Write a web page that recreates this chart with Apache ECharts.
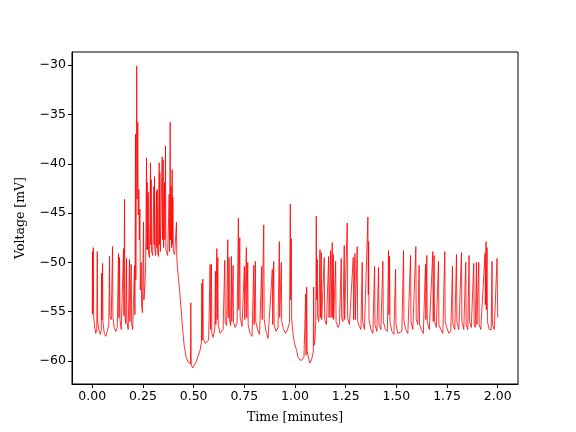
<!DOCTYPE html>
<html>
<head>
<meta charset="utf-8">
<script src="https://cdn.jsdelivr.net/npm/echarts@6/dist/echarts.min.js"></script>
<style>html,body{margin:0;padding:0;background:#fff}#c{width:576px;height:432px}</style>
</head>
<body>
<div id="c"></div>
<script>
// Time in minutes
const timeMin = [
0,0.0010,0.0025,0.0049,0.0069,0.0123,0.0172,0.0222,0.0246,0.0266,0.0320,0.0394,0.0443,0.0458,0.0473,0.0507,0.0527,0.0591,0.0665,0.0739,
0.0813,0.0852,0.0872,0.0936,0.1000,0.1020,0.1084,0.1158,0.1232,0.1296,0.1315,0.1345,0.1365,0.1429,0.1502,0.1542,0.1562,0.1591,0.1611,0.1650,
0.1690,0.1709,0.1773,0.1837,0.1857,0.1921,0.1941,0.1995,0.2084,0.2103,0.2133,0.2148,0.2192,0.2212,0.2246,0.2266,0.2300,0.2320,0.2350,0.2369,
0.2414,0.2433,0.2473,0.2527,0.2547,0.2586,0.2635,
0.2675,0.2695,0.2709,0.2729,0.2759,0.2778,0.2823,0.2872,0.2887,0.2906,0.2926,0.2980,0.3039,0.3054,0.3069,0.3089,0.3128,0.3167,0.3182,0.3202,
0.3222,0.3266,0.3300,0.3315,0.3335,0.3355,0.3399,0.3448,0.3468,0.3498,0.3517,0.3562,0.3581,0.3611,0.3631,0.3670,0.3719,0.3793,0.3813,0.3842,
0.3862,0.3892,0.3911,0.3941,0.3961,0.3975,0.3995,0.4064,0.4153,0.4172,0.4236,0.4310,0.4384,0.4458,0.4532,0.4631,0.4729,0.4842,0.4862,0.4882,
0.4951,0.5025,0.5123,0.5222,0.5320,0.5384,0.5404,0.5424,0.5453,0.5473,0.5567,0.5665,0.5739,0.5813,0.5833,0.5877,0.5897,0.5961,0.6044,0.6074,
0.6094,0.6143,0.6163,0.6192,0.6212,0.6305,0.6379,0.6453,0.6537,0.6557,0.6626,0.6685,0.6704,0.6749,0.6768,0.6823,0.6862,0.6882,0.6946,0.6966,
0.7044,0.7143,0.7207,0.7227,0.7276,0.7296,0.7389,0.7463,0.7502,0.7522,0.7601,0.7621,0.7670,0.7690,0.7783,0.7882,0.7966,0.7985,0.8044,0.8064,
0.8153,0.8251,0.8360,0.8379,0.8458,0.8478,0.8571,0.8670,0.8768,0.8882,0.8901,0.8951,0.8970,0.9064,0.9163,0.9227,0.9246,0.9325,0.9345,0.9433,
0.9532,0.9631,0.9729,0.9768,0.9788,0.9818,0.9837,0.9901,0.9975,1.0074,1.0148,1.0246,1.0345,1.0443,1.0517,1.0527,1.0547,1.0576,1.0596,1.0665,
1.0739,1.0813,1.0901,1.0921,1.0941,1.0985,1.1025,1.1049,1.1069,1.1099,1.1118,1.1172,1.1232,1.1251,1.1296,1.1315,1.1379,1.1443,1.1463,1.1552,
1.1660,1.1680,1.1759,1.1778,1.1837,1.1857,1.1887,1.1906,1.2005,1.2025,1.2118,1.2192,1.2281,1.2300,1.2365,1.2429,1.2448,1.2512,1.2576,1.2596,
1.2685,1.2783,1.2872,1.2892,1.2956,1.2975,1.3069,1.3089,1.3177,1.3251,1.3315,1.3335,1.3424,1.3522,1.3596,1.3616,1.3631,1.3650,1.3744,1.3842,
1.3926,1.3946,1.4039,1.4123,1.4143,1.4236,1.4335,1.4355,1.4458,1.4557,1.4616,1.4635,1.4665,1.4685,1.4778,1.4877,1.4961,1.4980,1.5074,1.5172,
1.5271,1.5355,1.5374,1.5468,1.5567,1.5700,1.5719,1.5813,1.5887,1.5961,1.5980,1.6059,1.6123,1.6143,1.6232,1.6330,1.6438,1.6458,1.6502,1.6522,
1.6626,1.6724,1.6798,1.6818,1.6862,1.6882,1.6970,1.7079,1.7099,1.7192,1.7291,1.7389,1.7409,1.7488,1.7586,1.7685,1.7768,1.7788,1.7882,1.7965,
1.7985,1.8079,1.8153,1.8212,1.8232,1.8325,1.8424,1.8443,1.8522,1.8586,1.8606,1.8695,1.8818,1.8837,1.8892,1.8951,1.8970,1.9064,1.9084,1.9163,
1.9261,1.9374,1.9389,1.9424,1.9438,1.9473,1.9493,1.9581,1.9680,1.9719,1.9739,1.9828,1.9926,1.9966,2.0000
];
// Membrane voltage in mV
const voltageMV = [
-55.3,-48.9,-55.2,-48.5,-55.6,-56.6,-57.2,-56.8,-48.9,-56.0,-56.8,-57.3,-56.9,-51.1,-55.8,-50.1,-56.0,-57.2,-57.5,-57.0,
-56.4,-49.4,-55.4,-55.8,-48.4,-55.6,-56.6,-57.0,-56.6,-49.1,-55.6,-49.5,-55.8,-56.8,-56.6,-48.6,-55.4,-43.6,-55.3,-56.2,
-49.6,-56.0,-56.8,-49.7,-56.0,-50.2,-56.2,-56.8,-50.3,-55.3,-37.0,-51.8,-30.1,-43.6,-35.8,-45.2,-42.6,-47.7,-44.6,-52.8,
-50.0,-54.3,-55.1,-45.9,-53.8,-52.8,-50.2,
-39.4,-48.7,-41.9,-48.7,-42.9,-49.2,-49.5,-39.9,-48.2,-41.6,-48.9,-49.3,-42.3,-48.2,-41.3,-48.7,-49.3,-42.8,-48.5,-42.6,
-49.0,-49.4,-39.9,-48.2,-40.9,-48.9,-49.1,-39.3,-47.7,-39.6,-48.5,-41.9,-47.7,-38.2,-48.7,-49.0,-49.3,-43.1,-48.9,-35.8,
-47.7,-42.3,-48.5,-40.6,-48.2,-43.4,-48.9,-49.2,-45.9,-49.7,-51.3,-52.8,-54.8,-56.8,-58.4,-59.6,-60.1,-60.3,-54.1,-60.4,
-60.7,-60.6,-60.1,-59.5,-58.9,-58.1,-52.1,-57.9,-51.7,-57.7,-58.2,-58.4,-57.9,-50.2,-56.8,-50.2,-57.2,-57.6,-56.8,-50.9,
-56.3,-48.6,-55.8,-49.5,-56.3,-57.2,-57.4,-56.8,-49.8,-56.0,-56.4,-47.7,-55.6,-49.5,-55.8,-56.4,-49.4,-56.0,-50.3,-56.0,
-56.6,-56.2,-45.5,-54.8,-47.5,-55.6,-56.5,-56.3,-50.4,-55.8,-48.5,-55.6,-50.0,-56.3,-57.2,-57.5,-50.3,-56.3,-49.9,-56.0,
-56.8,-57.3,-50.4,-55.8,-46.2,-55.8,-57.0,-57.7,-57.5,-50.7,-56.3,-49.9,-56.3,-57.0,-56.6,-47.9,-55.6,-50.0,-56.0,-56.8,
-57.2,-56.8,-56.1,-44.1,-53.8,-47.6,-55.8,-57.2,-58.2,-58.9,-59.6,-59.9,-59.9,-59.6,-59.4,-53.2,-59.4,-52.5,-58.9,-59.7,
-60.2,-59.9,-59.1,-52.5,-58.4,-57.9,-56.0,-45.3,-53.8,-49.7,-55.6,-56.0,-48.7,-55.6,-49.0,-55.8,-56.0,-49.5,-55.8,-56.3,
-49.4,-55.6,-48.8,-55.6,-48.0,-55.6,-49.2,-55.8,-49.9,-56.0,-56.6,-56.3,-49.6,-55.6,-56.0,-48.3,-55.8,-56.0,-46.0,-55.6,
-56.3,-56.5,-49.5,-55.8,-49.1,-55.8,-48.4,-56.0,-56.5,-56.8,-50.0,-56.0,-56.8,-57.0,-45.4,-53.3,-47.9,-55.8,-56.8,-57.2,
-50.4,-56.3,-57.0,-50.5,-56.3,-56.8,-49.9,-56.0,-56.8,-57.0,-48.8,-55.3,-49.4,-56.0,-57.0,-57.3,-50.7,-56.3,-57.2,-57.4,
-57.0,-48.8,-56.0,-56.8,-57.2,-49.3,-56.0,-56.8,-56.8,-48.4,-55.8,-56.3,-50.3,-56.3,-56.8,-57.2,-50.2,-55.8,-49.3,-56.0,
-56.8,-56.9,-48.9,-56.0,-49.3,-56.0,-56.6,-49.9,-56.3,-56.8,-57.2,-48.9,-56.0,-56.6,-57.2,-57.0,-50.4,-56.3,-56.8,-49.2,
-56.0,-56.8,-56.8,-49.0,-56.0,-56.8,-50.0,-56.3,-56.8,-49.3,-56.0,-56.6,-50.1,-56.3,-56.6,-50.0,-56.3,-50.0,-56.3,-56.8,
-56.6,-49.1,-54.3,-47.9,-54.8,-48.5,-56.0,-56.8,-56.8,-49.9,-56.3,-56.8,-56.6,-49.6,-55.6
];
const xTicks = [0, 0.25, 0.5, 0.75, 1.0, 1.25, 1.5, 1.75, 2.0];
const yTicks = [-60, -55, -50, -45, -40, -35, -30];
const xLabel = 'Time [minutes]';
const yLabel = 'Voltage [mV]';

const points = timeMin.map((t, i) => [t, voltageMV[i]]);
const fmtNum = v => (v < 0 ? '\u2212' : '') + Math.abs(v);
const tickFont = {fontFamily: 'DejaVu Sans', fontSize: 12.5, color: '#000'};
const chart = echarts.init(document.getElementById('c'), null, {renderer: 'canvas'});
chart.setOption({
  animation: false,
  backgroundColor: '#fff',
  grid: {left: 72, right: 58, top: 52, bottom: 48, show: true, borderColor: '#000', borderWidth: 1, backgroundColor: 'transparent'},
  xAxis: {
    type: 'value', min: -0.1, max: 2.1,
    name: xLabel, nameLocation: 'middle', nameGap: 27,
    nameTextStyle: {fontFamily: 'DejaVu Serif', fontSize: 12.5, color: '#000'},
    axisLine: {show: true, onZero: false, lineStyle: {color: '#000', width: 1}},
    axisTick: {show: true, inside: false, length: 4, lineStyle: {color: '#000'}, customValues: xTicks},
    axisLabel: Object.assign({margin: 6, customValues: xTicks, formatter: v => v.toFixed(2)}, tickFont),
    splitLine: {show: false}
  },
  yAxis: {
    type: 'value', min: -62.33, max: -28.67,
    name: yLabel, nameLocation: 'middle', nameGap: 45, nameRotate: 90,
    nameTextStyle: {fontFamily: 'DejaVu Serif', fontSize: 12.5, color: '#000'},
    axisLine: {show: true, onZero: false, lineStyle: {color: '#000', width: 1}},
    axisTick: {show: true, inside: false, length: 4, lineStyle: {color: '#000'}, customValues: yTicks},
    axisLabel: Object.assign({margin: 6, customValues: yTicks, formatter: fmtNum}, tickFont),
    splitLine: {show: false}
  },
  series: [{
    type: 'line', data: points, showSymbol: false, symbol: 'none', sampling: false,
    lineStyle: {color: '#ff0000', width: 0.8}, itemStyle: {color: '#ff0000'}
  }]
});
</script>
</body>
</html>
